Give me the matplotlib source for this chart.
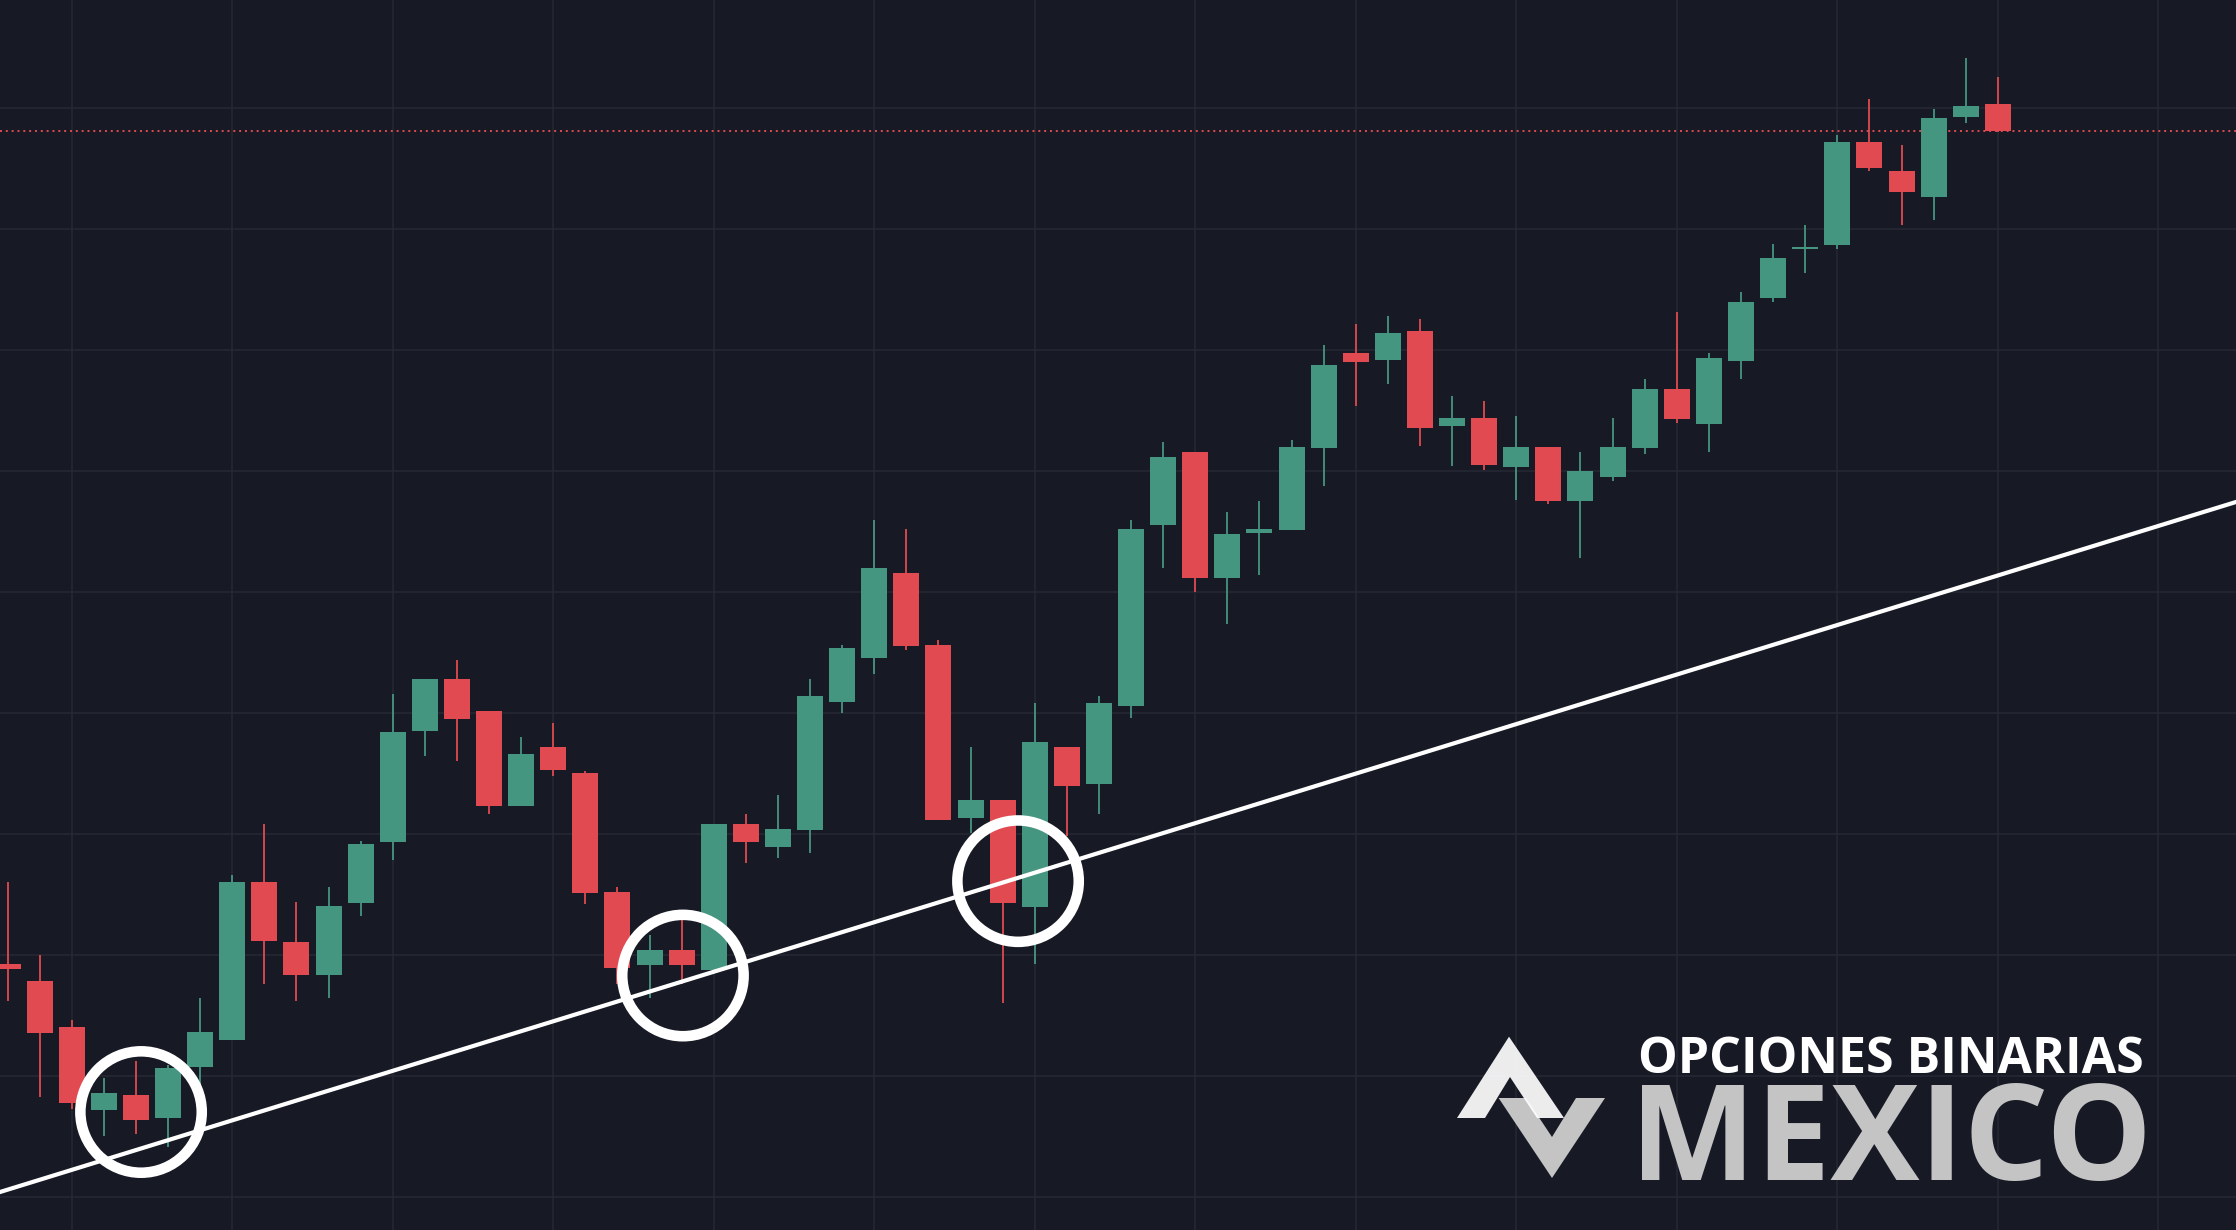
import numpy as np
import matplotlib
matplotlib.use("Agg")
import matplotlib.pyplot as plt
from matplotlib.patches import Polygon

W, H, DPI = 2236, 1230, 100

BG = "#171a25"
GRID = "#262934"
UP = "#459680"
DOWN = "#e04a50"

# candles (price units, grid step = 10)
opens = [19.25, 17.84, 14.04, 7.21, 8.42, 6.56, 10.74, 12.97, 26.02, 21.06,
         18.37, 24.33, 29.32, 38.50, 42.80, 40.20, 32.32, 37.18, 35.03, 25.20,
         19.21, 20.40, 18.78, 30.82, 28.93, 30.36, 40.92, 44.54, 51.56, 45.61,
         31.34, 32.80, 24.00, 37.18, 34.15, 40.57, 55.53, 61.56, 51.12, 54.89,
         55.13, 61.92, 69.75, 69.13, 71.56, 63.75, 64.37, 60.36, 61.99, 57.54,
         59.51, 61.93, 66.77, 63.91, 69.11, 74.33, 78.34, 78.70, 87.18, 84.79,
         82.65, 89.26, 90.32]
highs = [26.02, 20.00, 14.62, 9.83, 11.23, 10.90, 16.44, 26.60, 30.82, 24.37,
         25.61, 29.41, 41.56, 42.80, 44.37, 40.20, 38.00, 39.16, 35.20, 25.61,
         21.64, 22.97, 30.82, 31.64, 33.21, 42.80, 45.61, 55.94, 55.20, 46.02,
         37.18, 32.80, 40.84, 37.18, 41.40, 55.94, 62.39, 61.56, 56.60, 57.55,
         62.55, 70.40, 72.14, 72.80, 72.56, 66.21, 65.78, 64.54, 61.99, 61.56,
         64.37, 67.59, 73.13, 69.75, 74.79, 78.75, 80.33, 87.76, 90.74, 86.94,
         89.92, 94.13, 92.55]
lows = [16.19, 8.26, 7.30, 5.03, 5.20, 4.12, 9.17, 12.97, 17.63, 16.19,
        16.48, 23.21, 27.84, 36.43, 36.02, 31.64, 32.32, 34.83, 24.24, 17.60,
        16.47, 17.60, 18.78, 27.63, 28.01, 28.42, 40.01, 43.21, 45.20, 31.18,
        30.07, 16.05, 19.29, 29.85, 31.69, 39.61, 52.01, 50.02, 47.37, 51.42,
        55.13, 58.79, 65.39, 67.18, 62.03, 60.44, 60.04, 57.63, 57.24, 52.83,
        59.19, 61.40, 64.00, 61.58, 67.63, 73.98, 76.36, 78.37, 84.81, 80.36,
        80.77, 88.79, 87.97]
closes = [18.84, 13.59, 7.80, 8.59, 6.39, 10.65, 13.63, 26.02, 21.15, 18.37,
          24.04, 29.16, 38.42, 42.80, 39.53, 32.31, 36.60, 35.31, 25.15, 18.95,
          20.40, 19.21, 30.82, 29.36, 30.40, 41.40, 45.36, 51.99, 45.55, 31.18,
          32.80, 24.31, 37.60, 33.98, 40.84, 55.20, 61.15, 51.12, 54.78, 55.21,
          61.99, 68.75, 68.98, 71.40, 63.51, 64.37, 60.51, 61.99, 57.55, 59.99,
          61.98, 66.77, 64.32, 69.34, 73.96, 77.60, 78.42, 87.18, 85.07, 83.07,
          89.17, 90.16, 88.12]

# drawn support line (two anchor points) and the touches circled on it
trend_x = [0, 62]
trend_y = [0.60, 51.36]
touch_x = [4.16, 21.04, 31.48]
touch_y = [7.02, 18.30, 26.10]

o = np.array(opens)
c = np.array(closes)
idx = np.arange(len(o))
cols = [UP if cc >= oo else DOWN for oo, cc in zip(o, c)]

fig = plt.figure(figsize=(W / DPI, H / DPI), dpi=DPI, facecolor=BG)
ax = fig.add_axes([0, 0, 1, 1])
ax.set_facecolor(BG)
ax.set_xlim(-0.234, 69.42)
ax.set_ylim(-2.73, 98.92)
for s in ax.spines.values():
    s.set_visible(False)
ax.set_xticks(np.arange(2, 70, 5))
ax.set_yticks(np.arange(0, 100, 10))
ax.tick_params(length=0, labelbottom=False, labelleft=False)
ax.grid(True, color=GRID, lw=1.1, zorder=0)
ax.set_axisbelow(True)

ax.vlines(idx, lows, highs, colors=cols, lw=1.3, zorder=2)
ax.bar(idx, np.maximum(np.abs(c - o), 0.15), bottom=np.minimum(o, c),
       width=0.81, color=cols, linewidth=0, zorder=3)

ax.axhline(closes[-1], color=DOWN, lw=1.4, ls=(0, (1, 2)), zorder=1)

ax.axline((trend_x[0], trend_y[0]), (trend_x[1], trend_y[1]),
          color="white", lw=3.0, zorder=4)
ax.scatter(touch_x, touch_y, s=87.4 ** 2, facecolors="none",
           edgecolors="white", linewidths=7.6, zorder=6)

# watermark logo
def fp(pts):
    return [(x / W, 1 - y / H) for x, y in pts]

v_shape = fp([(1498.6, 1098), (1552, 1178), (1605, 1098), (1576, 1098),
              (1552, 1137), (1526, 1098)])
a_shape = fp([(1457, 1118), (1509, 1036.7), (1564, 1118), (1537, 1118),
              (1510, 1077), (1485, 1118)])
fig.patches.append(Polygon(v_shape, closed=True, transform=fig.transFigure,
                           facecolor="#c4c4c4", edgecolor="none", zorder=7))
fig.patches.append(Polygon(a_shape, closed=True, transform=fig.transFigure,
                           facecolor="white", edgecolor="none", alpha=0.92,
                           zorder=8))

fig.text(1891 / W, 1 - 1072.7 / H, "OPCIONES BINARIAS", color="white",
         fontsize=36, family="Open Sans", weight="bold", ha="center",
         va="baseline", zorder=9)
fig.text(1891 / W, 1 - 1180 / H, "MEXICO", color="#c4c4c4",
         fontsize=96, family="Open Sans", weight="bold", ha="center",
         va="baseline", zorder=9)

fig.savefig("out.png", dpi=DPI, facecolor=BG)
